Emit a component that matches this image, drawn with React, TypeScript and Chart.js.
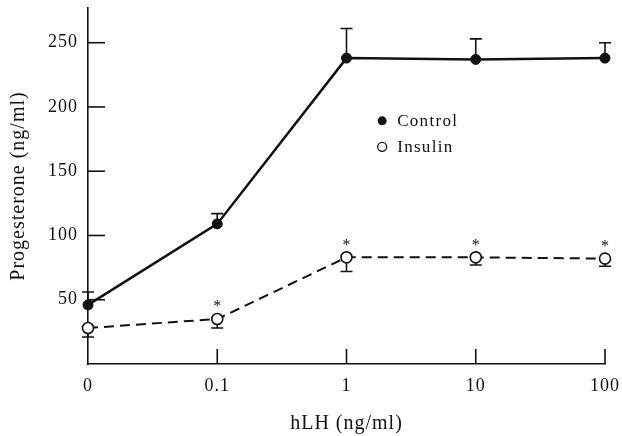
import React, { useEffect, useRef } from "react";
import { Chart, registerables } from "chart.js";

Chart.register(...registerables);

const doseLabels = ["0", "0.1", "1", "10", "100"];
const controlValues = [46, 109, 238, 237, 238];
const controlErrors = [10, 8, 23, 16, 12];
const insulinValues = [28, 35, 83, 83, 82];
const insulinErrors = [7, 7, 11, 6, 6];
const insulinSignificant = [false, true, true, true, true];
const yTickValues = [50, 100, 150, 200, 250];
const legendLabels = ["Control", "Insulin"];

const FONT = "'Liberation Serif', 'Times New Roman', serif";
const INK = "#111";

const spacingPlugin = {
  id: "spacing",
  beforeUpdate(chart: any) {
    chart.ctx.letterSpacing = "1px";
  },
  beforeDraw(chart: any) {
    chart.ctx.letterSpacing = "1px";
  },
};

const extrasPlugin = {
  id: "extras",
  beforeDatasetsDraw(chart: any) {
    const ctx = chart.ctx;
    const x = chart.scales.x;
    const y = chart.scales.y;
    const area = chart.chartArea;
    ctx.save();
    ctx.strokeStyle = INK;
    ctx.lineWidth = 1.6;
    yTickValues.forEach((v) => {
      const py = y.getPixelForValue(v);
      ctx.beginPath();
      ctx.moveTo(area.left, py);
      ctx.lineTo(area.left + 17, py);
      ctx.stroke();
    });
    doseLabels.forEach((_, i) => {
      if (i === 0) return;
      const px = x.getPixelForValue(i);
      ctx.beginPath();
      ctx.moveTo(px, area.bottom);
      ctx.lineTo(px, area.bottom - 15);
      ctx.stroke();
    });
    const cap = 6;
    ctx.lineWidth = 1.6;
    controlValues.forEach((v, i) => {
      const px = x.getPixelForValue(i);
      const p0 = y.getPixelForValue(v);
      const p1 = y.getPixelForValue(v + controlErrors[i]);
      ctx.beginPath();
      ctx.moveTo(px, p0);
      ctx.lineTo(px, p1);
      ctx.moveTo(px - cap, p1);
      ctx.lineTo(px + cap, p1);
      ctx.stroke();
    });
    insulinValues.forEach((v, i) => {
      const px = x.getPixelForValue(i);
      const p0 = y.getPixelForValue(v);
      const p1 = y.getPixelForValue(v - insulinErrors[i]);
      ctx.beginPath();
      ctx.moveTo(px, p0);
      ctx.lineTo(px, p1);
      ctx.moveTo(px - cap, p1);
      ctx.lineTo(px + cap, p1);
      ctx.stroke();
    });
    ctx.restore();
  },
  afterDatasetsDraw(chart: any) {
    const ctx = chart.ctx;
    const x = chart.scales.x;
    const y = chart.scales.y;
    const area = chart.chartArea;
    ctx.save();
    ctx.letterSpacing = "0px";
    ctx.fillStyle = INK;
    ctx.font = `16px ${FONT}`;
    ctx.textAlign = "center";
    ctx.textBaseline = "middle";
    insulinValues.forEach((v, i) => {
      if (!insulinSignificant[i]) return;
      const px = x.getPixelForValue(i);
      const py = y.getPixelForValue(v);
      ctx.fillText("*", px, py - 12);
    });
    const lx = area.left + (area.right - area.left) * 0.569;
    const ly0 = area.top + (area.bottom - area.top) * 0.317;
    const gap = 26;
    ctx.letterSpacing = "1.3px";
    ctx.font = `17px ${FONT}`;
    ctx.textAlign = "left";
    legendLabels.forEach((label, i) => {
      const ly = ly0 + i * gap;
      ctx.beginPath();
      ctx.arc(lx, ly, 4.5, 0, Math.PI * 2);
      if (i === 0) {
        ctx.fillStyle = INK;
        ctx.fill();
      } else {
        ctx.fillStyle = "#fff";
        ctx.fill();
        ctx.strokeStyle = INK;
        ctx.lineWidth = 1.3;
        ctx.stroke();
      }
      ctx.fillStyle = INK;
      ctx.fillText(label, lx + 15, ly + 1);
    });
    ctx.restore();
  },
};

export default function App() {
  const ref = useRef<HTMLCanvasElement>(null);
  useEffect(() => {
    if (!ref.current) return;
    const chart = new Chart(ref.current, {
      type: "line",
      data: {
        labels: doseLabels,
        datasets: [
          {
            label: legendLabels[0],
            data: controlValues,
            borderColor: INK,
            borderWidth: 2.5,
            pointRadius: 5,
            pointBackgroundColor: INK,
            pointBorderColor: INK,
            pointBorderWidth: 1,
            tension: 0,
            clip: false as any,
          },
          {
            label: legendLabels[1],
            data: insulinValues,
            borderColor: INK,
            borderWidth: 2,
            borderDash: [10, 6],
            pointRadius: 5.5,
            pointBackgroundColor: "#fff",
            pointBorderColor: INK,
            pointBorderWidth: 1.6,
            tension: 0,
            clip: false as any,
          },
        ],
      },
      options: {
        animation: false,
        responsive: false,
        maintainAspectRatio: false,
        layout: { padding: { top: 8, right: 17, left: 0, bottom: 0 } },
        plugins: {
          legend: { display: false },
          tooltip: { enabled: false },
        },
        scales: {
          x: {
            type: "category",
            offset: false,
            grid: { display: false, drawTicks: false },
            border: { display: true, color: INK, width: 1.6 },
            ticks: {
              color: INK,
              font: { family: FONT, size: 18 },
              padding: 11,
              maxRotation: 0,
              autoSkip: false,
            },
            title: {
              display: true,
              text: "hLH (ng/ml)",
              color: INK,
              font: { family: FONT, size: 20 },
              padding: { top: 2, bottom: 0 },
            },
            afterFit: (s: any) => {
              s.height = 72;
              s.paddingLeft = 0;
              s.paddingRight = 0;
            },
          },
          y: {
            type: "linear",
            min: 0,
            max: 277,
            grid: { display: false, drawTicks: false },
            border: { display: true, color: INK, width: 1.6 },
            afterBuildTicks: (s: any) => {
              s.ticks = yTickValues.map((v) => ({ value: v }));
            },
            ticks: {
              color: INK,
              font: { family: FONT, size: 18 },
              padding: 10,
            },
            title: {
              display: true,
              text: "Progesterone (ng/ml)",
              color: INK,
              font: { family: FONT, size: 20 },
              padding: { top: 7, bottom: 0 },
            },
            afterFit: (s: any) => {
              s.width = 88;
              s.paddingTop = 0;
              s.paddingBottom = 0;
            },
          },
        },
      },
      plugins: [spacingPlugin, extrasPlugin],
    });
    return () => chart.destroy();
  }, []);
  return (
    <div style={{ position: "absolute", left: 0, top: 0, width: 622, height: 436, background: "#fff" }}>
      <canvas ref={ref} width={622} height={436} style={{ display: "block" }} />
    </div>
  );
}
